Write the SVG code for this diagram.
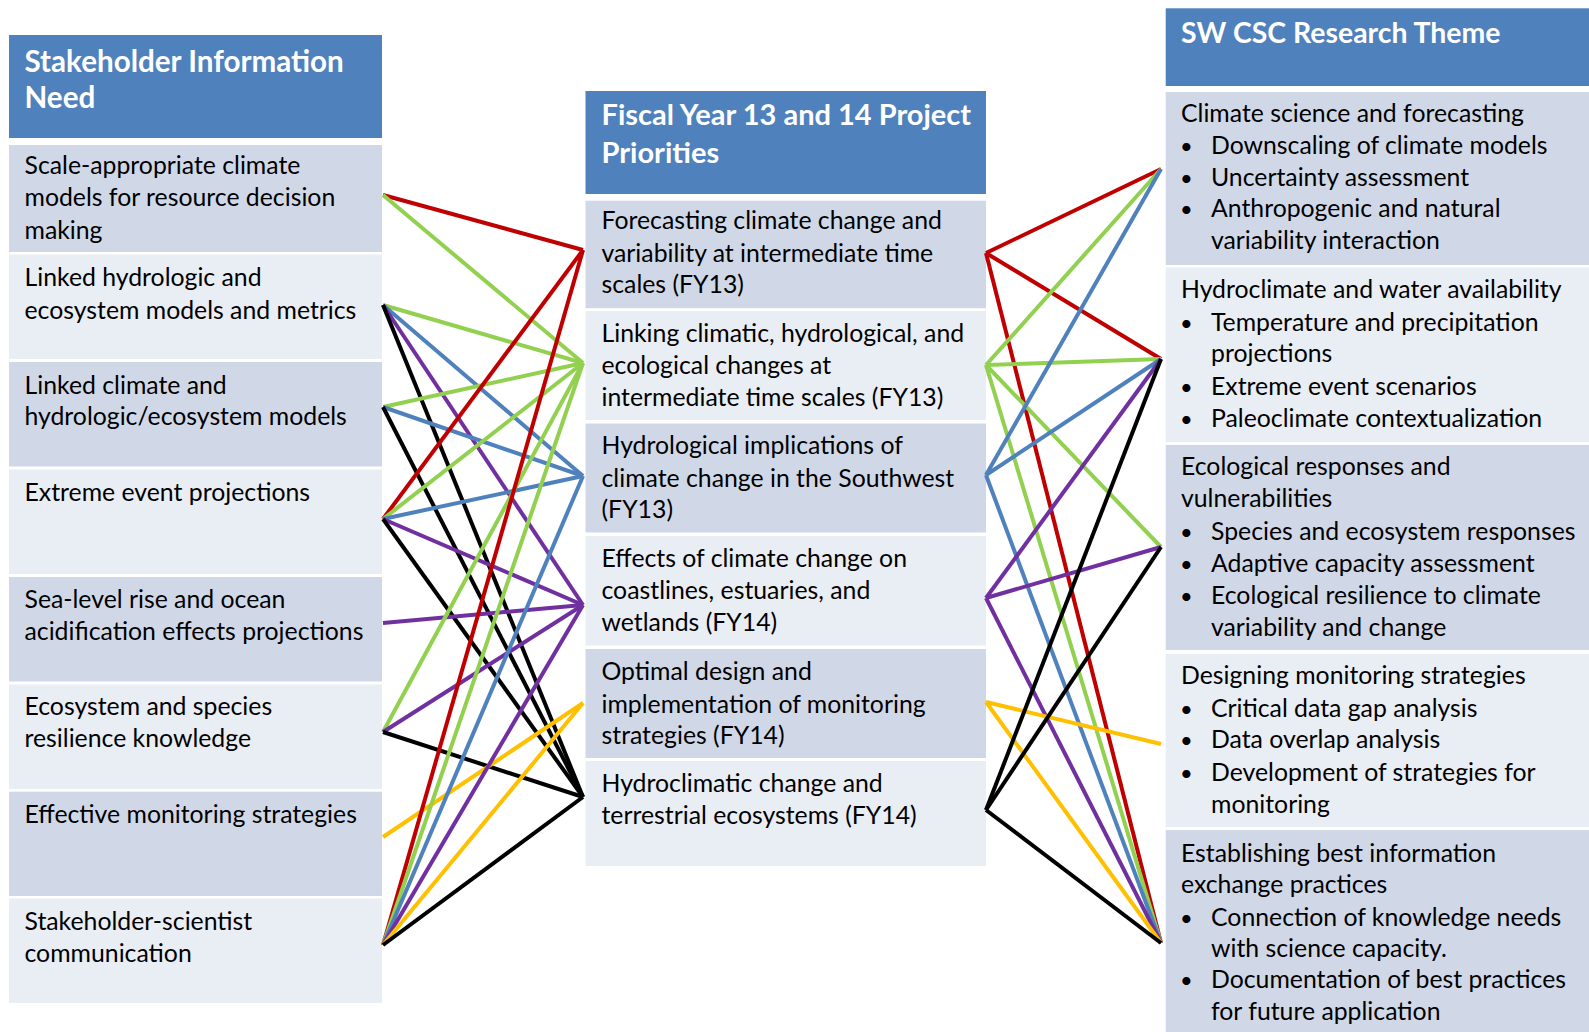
<svg xmlns="http://www.w3.org/2000/svg" width="1589" height="1032" viewBox="0 0 1589 1032">
  <style>
    .hdr { fill: #4f81bd; }
    .b1 { fill: #d0d8e8; }
    .b2 { fill: #e9edf4; }
    text { font-family: Lato, "Open Sans", "Liberation Sans", sans-serif; font-size: 24.8px; fill: #000; }
    .ht { font-weight: bold; font-size: 29px; fill: #fff; }
    .bl { font-size: 22px; }
    .c line { stroke-width: 4; fill: none; }
    .red { stroke: #c00000; }
    .grn { stroke: #92d050; }
    .blu { stroke: #4f81bd; }
    .pur { stroke: #7030a0; }
    .yel { stroke: #ffc000; }
    .blk { stroke: #000000; }
  </style>

  <!-- Left column: stakeholder information needs -->
  <g id="left-header">
    <rect class="hdr" x="9" y="35" width="373" height="103"/>
    <text class="ht" x="24.5" y="71.7" style="font-size:29.6px">Stakeholder Information</text>
    <text class="ht" x="24.5" y="108.3" style="font-size:29.6px">Need</text>
  </g>
  <g id="need-1">
    <rect class="b1" x="9" y="145" width="373" height="107"/>
    <text x="24.5" y="173.7">Scale-appropriate climate</text>
    <text x="24.5" y="206.1">models for resource decision</text>
    <text x="24.5" y="238.5">making</text>
  </g>
  <g id="need-2">
    <rect class="b2" x="9" y="254.5" width="373" height="104.5"/>
    <text x="24.5" y="286.2">Linked hydrologic and</text>
    <text x="24.5" y="318.6">ecosystem models and metrics</text>
  </g>
  <g id="need-3">
    <rect class="b1" x="9" y="362" width="373" height="104.5"/>
    <text x="24.5" y="393.6">Linked climate and</text>
    <text x="24.5" y="425">hydrologic/ecosystem models</text>
  </g>
  <g id="need-4">
    <rect class="b2" x="9" y="469.5" width="373" height="104.5"/>
    <text x="24.5" y="501">Extreme event projections</text>
  </g>
  <g id="need-5">
    <rect class="b1" x="9" y="577" width="373" height="104.5"/>
    <text x="24.5" y="608.4">Sea-level rise and ocean</text>
    <text x="24.5" y="639.8">acidification effects projections</text>
  </g>
  <g id="need-6">
    <rect class="b2" x="9" y="684.5" width="373" height="104.5"/>
    <text x="24.5" y="714.8">Ecosystem and species</text>
    <text x="24.5" y="747.3">resilience knowledge</text>
  </g>
  <g id="need-7">
    <rect class="b1" x="9" y="791.7" width="373" height="104.3"/>
    <text x="24.5" y="822.7">Effective monitoring strategies</text>
  </g>
  <g id="need-8">
    <rect class="b2" x="9" y="898.5" width="373" height="104.5"/>
    <text x="24.5" y="930">Stakeholder-scientist</text>
    <text x="24.5" y="961.5">communication</text>
  </g>

  <!-- Middle column: FY13/FY14 project priorities -->
  <g id="mid-header">
    <rect class="hdr" x="585.5" y="91" width="400.5" height="103"/>
    <text class="ht" x="601.5" y="125">Fiscal Year 13 and 14 Project</text>
    <text class="ht" x="601.5" y="163.3">Priorities</text>
  </g>
  <g id="priority-1">
    <rect class="b1" x="585.5" y="200.7" width="400.5" height="107.5"/>
    <text x="601.5" y="228.6">Forecasting climate change and</text>
    <text x="601.5" y="261.7">variability at intermediate time</text>
    <text x="601.5" y="293.3">scales (FY13)</text>
  </g>
  <g id="priority-2">
    <rect class="b2" x="585.5" y="311" width="400.5" height="109"/>
    <text x="601.5" y="341.9">Linking climatic, hydrological, and</text>
    <text x="601.5" y="374.3">ecological changes at</text>
    <text x="601.5" y="405.8">intermediate time scales (FY13)</text>
  </g>
  <g id="priority-3">
    <rect class="b1" x="585.5" y="423.5" width="400.5" height="109"/>
    <text x="601.5" y="454.4">Hydrological implications of</text>
    <text x="601.5" y="486.8">climate change in the Southwest</text>
    <text x="601.5" y="518.2">(FY13)</text>
  </g>
  <g id="priority-4">
    <rect class="b2" x="585.5" y="536" width="400.5" height="109.5"/>
    <text x="601.5" y="566.9">Effects of climate change on</text>
    <text x="601.5" y="599.3">coastlines, estuaries, and</text>
    <text x="601.5" y="630.7">wetlands (FY14)</text>
  </g>
  <g id="priority-5">
    <rect class="b1" x="585.5" y="649" width="400.5" height="109"/>
    <text x="601.5" y="680">Optimal design and</text>
    <text x="601.5" y="712.7">implementation of monitoring</text>
    <text x="601.5" y="744">strategies (FY14)</text>
  </g>
  <g id="priority-6">
    <rect class="b2" x="585.5" y="761" width="400.5" height="105"/>
    <text x="601.5" y="791.7">Hydroclimatic change and</text>
    <text x="601.5" y="824">terrestrial ecosystems (FY14)</text>
  </g>

  <!-- Right column: research themes -->
  <g id="right-header">
    <rect class="hdr" x="1165.7" y="8.3" width="423.3" height="77.7"/>
    <text class="ht" x="1181" y="43.3" style="font-size:28.4px">SW CSC Research Theme</text>
  </g>
  <g id="theme-1">
    <rect class="b1" x="1165.7" y="92" width="423.3" height="173"/>
    <text x="1181" y="121.7">Climate science and forecasting</text>
    <text class="bl" x="1180" y="154">•</text><text x="1211" y="154">Downscaling of climate models</text>
    <text class="bl" x="1180" y="185.7">•</text><text x="1211" y="185.7">Uncertainty assessment</text>
    <text class="bl" x="1180" y="217.3">•</text><text x="1211" y="217.3">Anthropogenic and natural</text>
    <text x="1211" y="249.3">variability interaction</text>
  </g>
  <g id="theme-2">
    <rect class="b2" x="1165.7" y="267.5" width="423.3" height="174.5"/>
    <text x="1181" y="298.3">Hydroclimate and water availability</text>
    <text class="bl" x="1180" y="330.8">•</text><text x="1211" y="330.8">Temperature and precipitation</text>
    <text x="1211" y="362.2">projections</text>
    <text class="bl" x="1180" y="394.6">•</text><text x="1211" y="394.6">Extreme event scenarios</text>
    <text class="bl" x="1180" y="427">•</text><text x="1211" y="427">Paleoclimate contextualization</text>
  </g>
  <g id="theme-3">
    <rect class="b1" x="1165.7" y="445" width="423.3" height="205"/>
    <text x="1181" y="474.7">Ecological responses and</text>
    <text x="1181" y="507.1">vulnerabilities</text>
    <text class="bl" x="1180" y="539.5">•</text><text x="1211" y="539.5">Species and ecosystem responses</text>
    <text class="bl" x="1180" y="571.9">•</text><text x="1211" y="571.9">Adaptive capacity assessment</text>
    <text class="bl" x="1180" y="604.4">•</text><text x="1211" y="604.4">Ecological resilience to climate</text>
    <text x="1211" y="635.8">variability and change</text>
  </g>
  <g id="theme-4">
    <rect class="b2" x="1165.7" y="654" width="423.3" height="173"/>
    <text x="1181" y="684.4">Designing monitoring strategies</text>
    <text class="bl" x="1180" y="716.9">•</text><text x="1211" y="716.9">Critical data gap analysis</text>
    <text class="bl" x="1180" y="748.3">•</text><text x="1211" y="748.3">Data overlap analysis</text>
    <text class="bl" x="1180" y="780.7">•</text><text x="1211" y="780.7">Development of strategies for</text>
    <text x="1211" y="813.1">monitoring</text>
  </g>
  <g id="theme-5">
    <rect class="b1" x="1165.7" y="830" width="423.3" height="202"/>
    <text x="1181" y="861.7">Establishing best information</text>
    <text x="1181" y="893.3">exchange practices</text>
    <text class="bl" x="1180" y="926">•</text><text x="1211" y="926">Connection of knowledge needs</text>
    <text x="1211" y="956.7">with science capacity.</text>
    <text class="bl" x="1180" y="988.3">•</text><text x="1211" y="988.3">Documentation of best practices</text>
    <text x="1211" y="1020">for future application</text>
  </g>

  <!-- Connectors: needs -> priorities -> themes -->
  <g id="connectors" class="c">
    <!-- left side -->
    <line class="red" x1="383" y1="195" x2="583" y2="250"/>
    <line class="grn" x1="383" y1="195" x2="583" y2="363"/>
    <line class="grn" x1="383" y1="305" x2="583" y2="363"/>
    <line class="blu" x1="383" y1="305" x2="583" y2="476"/>
    <line class="pur" x1="383" y1="305" x2="583" y2="605"/>
    <line class="blk" x1="383" y1="305" x2="583" y2="797"/>
    <line class="grn" x1="383" y1="407" x2="583" y2="363"/>
    <line class="blu" x1="383" y1="407" x2="583" y2="476"/>
    <line class="blk" x1="383" y1="407" x2="583" y2="797"/>
    <line class="red" x1="383" y1="519" x2="583" y2="250"/>
    <line class="grn" x1="383" y1="519" x2="583" y2="363"/>
    <line class="blu" x1="383" y1="519" x2="583" y2="476"/>
    <line class="pur" x1="383" y1="519" x2="583" y2="605"/>
    <line class="blk" x1="383" y1="519" x2="583" y2="797"/>
    <line class="pur" x1="383" y1="623" x2="583" y2="605"/>
    <line class="grn" x1="383" y1="732" x2="583" y2="363"/>
    <line class="pur" x1="383" y1="732" x2="583" y2="605"/>
    <line class="blk" x1="383" y1="732" x2="583" y2="797"/>
    <line class="yel" x1="383" y1="837" x2="583" y2="703"/>
    <line class="red" x1="383" y1="945" x2="583" y2="250"/>
    <line class="grn" x1="383" y1="945" x2="583" y2="363"/>
    <line class="blu" x1="383" y1="945" x2="583" y2="476"/>
    <line class="pur" x1="383" y1="945" x2="583" y2="605"/>
    <line class="yel" x1="383" y1="945" x2="583" y2="703"/>
    <line class="blk" x1="383" y1="945" x2="583" y2="797"/>
    <!-- right side -->
    <line class="red" x1="986" y1="253" x2="1161" y2="169"/>
    <line class="red" x1="986" y1="253" x2="1161" y2="359"/>
    <line class="red" x1="986" y1="253" x2="1161" y2="943"/>
    <line class="grn" x1="986" y1="365" x2="1161" y2="169"/>
    <line class="grn" x1="986" y1="365" x2="1161" y2="359"/>
    <line class="grn" x1="986" y1="365" x2="1161" y2="547"/>
    <line class="grn" x1="986" y1="365" x2="1161" y2="943"/>
    <line class="blu" x1="986" y1="475" x2="1161" y2="169"/>
    <line class="blu" x1="986" y1="475" x2="1161" y2="359"/>
    <line class="blu" x1="986" y1="475" x2="1161" y2="943"/>
    <line class="pur" x1="986" y1="598" x2="1161" y2="359"/>
    <line class="pur" x1="986" y1="598" x2="1161" y2="547"/>
    <line class="pur" x1="986" y1="598" x2="1161" y2="943"/>
    <line class="yel" x1="986" y1="702" x2="1161" y2="744"/>
    <line class="yel" x1="986" y1="702" x2="1161" y2="943"/>
    <line class="blk" x1="986" y1="810" x2="1161" y2="359"/>
    <line class="blk" x1="986" y1="810" x2="1161" y2="547"/>
    <line class="blk" x1="986" y1="810" x2="1161" y2="943"/>
  </g>
</svg>
